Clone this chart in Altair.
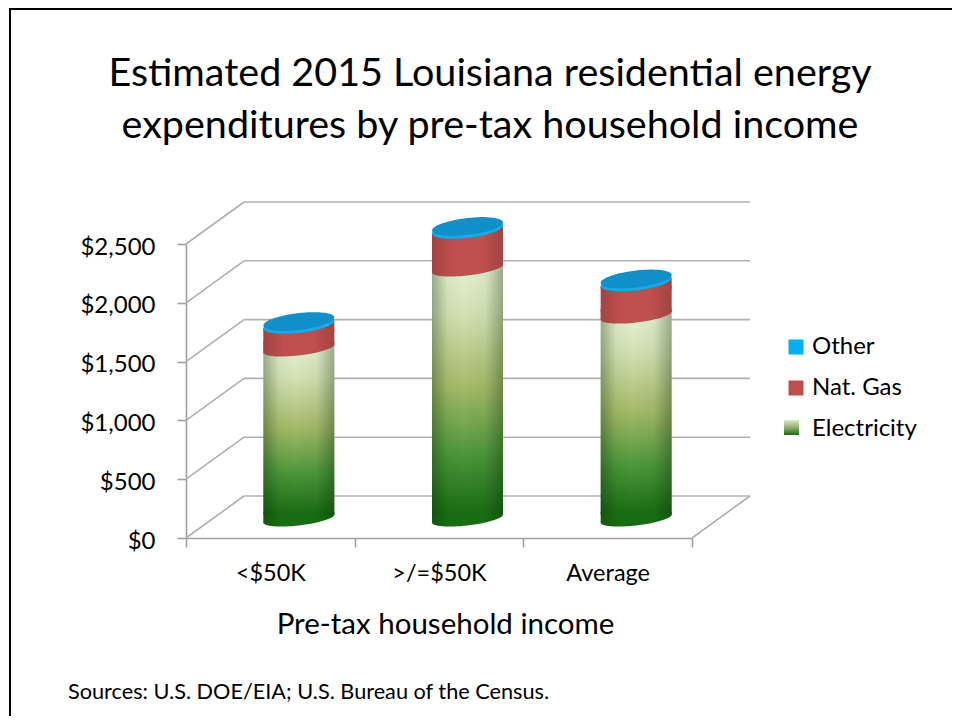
import altair as alt
import pandas as pd
import math

categories = ["<$50K", ">/=$50K", "Average"]
electricity = [1446, 2126, 1726]
nat_gas = [204, 332, 286]
other = [25, 25, 25]
series = ["Other", "Nat. Gas", "Electricity"]
ticks = [0, 500, 1000, 1500, 2000, 2500]

FONT = "Lato"
GRID = "#b0b0b0"
AXIS = "#a0a0a0"
AXIS_TITLE = "Pre-tax household income"
PW, PH = 506, 294
DX, DY = 58, 42            # depth of the 3-D box
BAR = 71                   # cylinder diameter
OX, OY = 28.5, -19.5       # cylinders stand mid-depth
TILT = 4.0
DATA_DEPTH = DY / PH * 2500
HALF = BAR / 2
SIZE = BAR * BAR
k = TILT / HALF
LAP = 0.08                 # triangles slip under the neighbouring rectangle, hiding the seam


def ellipse(b_px):
    b = b_px / HALF
    pts = []
    for i in range(64):
        a = 2 * math.pi * i / 64
        pts.append(f"{math.cos(a):.4f},{-k * math.cos(a) + b * math.sin(a):.4f}")
    return "M" + "L".join(pts) + "Z"


TOP_ELLIPSE = ellipse(8.5)
LOW_ELLIPSE = ellipse(7.0)
# fills the right corner under a slanted top
TRI_UP = f"M-1,{k:.4f}L1,{-k:.4f}L1,{k + LAP:.4f}L-1,{k + LAP:.4f}Z"
# fills the left corner above a slanted bottom
TRI_DOWN = f"M-1,{k:.4f}L1,{-k:.4f}L1,{-k - LAP:.4f}L-1,{-k - LAP:.4f}Z"


def grad_v(stops):
    return alt.Gradient(gradient="linear", x1=0, x2=0, y1=0, y2=1,
                        stops=[alt.GradientStop(color=c, offset=o) for o, c in stops])


def grad_h(stops):
    return alt.Gradient(gradient="linear", x1=0, x2=1, y1=0, y2=0,
                        stops=[alt.GradientStop(color=c, offset=o) for o, c in stops])


GREEN = [(0, "#e6f2d4"), (0.2, "#d3e2b4"), (0.5, "#a3b968"), (0.75, "#4f983c"), (1, "#186c12")]
RED = grad_h([(0, "#a34340"), (0.3, "#c0504d"), (0.7, "#c0504d"), (1, "#a34340")])
DARKGREEN = grad_h([(0, "#115a0c"), (0.25, "#186c12"), (0.75, "#186c12"), (1, "#115a0c")])
SHADE = grad_h([(0, "rgba(0,30,0,0.32)"), (0.22, "rgba(0,30,0,0.04)"), (0.45, "rgba(0,30,0,0)"),
                (0.75, "rgba(0,30,0,0.04)"), (1, "rgba(0,30,0,0.32)")])

bars = pd.DataFrame({"cat": categories, "elec": electricity, "gas": nat_gas, "oth": other})
bars["gas_top"] = bars.elec + bars.gas
bars["total"] = bars.gas_top + bars.oth
bars["zero"] = 0

seg = pd.DataFrame(
    [{"cat": c, "series": "Electricity", "lo": 0, "hi": e} for c, e in zip(categories, electricity)]
    + [{"cat": c, "series": "Nat. Gas", "lo": e, "hi": e + g} for c, e, g in zip(categories, electricity, nat_gas)]
    + [{"cat": c, "series": "Other", "lo": e + g, "hi": e + g + o} for c, e, g, o in zip(categories, electricity, nat_gas, other)]
)

grid = pd.DataFrame({"v": ticks})
grid["back"] = grid.v + DATA_DEPTH
floor = grid[grid.v == 0]

xs = alt.Scale(type="band", domain=categories, paddingInner=0, paddingOuter=0)
ys = alt.Scale(domain=[0, 2500], nice=False)
X = alt.X("cat:N", scale=xs, title=AXIS_TITLE)


def Y(field):
    return alt.Y(f"{field}:Q", scale=ys, title=None)


def rect(top, bottom, top_off, bottom_off, fill):
    return alt.Chart(bars).mark_bar(width=BAR, xOffset=OX, yOffset=OY + top_off, y2Offset=OY + bottom_off,
                                    fill=fill, strokeWidth=0).encode(x=X, y=Y(top), y2=alt.Y2(f"{bottom}:Q"))


def cap(field, shape, fill, off=0.0):
    return alt.Chart(bars).mark_point(shape=shape, size=SIZE, filled=True, opacity=1, fill=fill, strokeWidth=0,
                                      xOffset=OX, yOffset=OY + off).encode(x=X, y=Y(field))


back_h = alt.Chart(grid).mark_rule(color=GRID, strokeWidth=1.6).encode(
    x=alt.value(DX), x2=alt.value(PW + DX), y=Y("back"))
diag = alt.Chart(grid).mark_rule(color=GRID, strokeWidth=1.6).encode(
    x=alt.value(0), x2=alt.value(DX), y=Y("v"), y2=alt.Y2("back:Q"))
diag_r = alt.Chart(floor).mark_rule(color=GRID, strokeWidth=1.6).encode(
    x=alt.value(PW), x2=alt.value(PW + DX), y=Y("v"), y2=alt.Y2("back:Q"))

axes = alt.Chart(grid).mark_rule(opacity=0).encode(
    y=alt.Y("v:Q", scale=ys, title=None, axis=alt.Axis(
        values=ticks, format="$,d", grid=False, domainColor=AXIS, domainWidth=1.6, tickColor=AXIS, tickWidth=1.6,
        tickSize=9, labelFont=FONT, labelFontSize=24, labelColor="#000000", labelPadding=22, labelOffset=3)))

hidden = alt.Chart(bars).mark_bar(width=2, xOffset=OX, yOffset=OY, y2Offset=OY, opacity=0).encode(
    x=alt.X("cat:N", scale=xs, title=AXIS_TITLE, axis=alt.Axis(
        labelAngle=0, tickBand="extent", domainColor=AXIS, domainWidth=1.6, tickColor=AXIS, tickWidth=1.6, tickSize=9,
        labelFont=FONT, labelFontSize=23.5, labelColor="#000000", labelPadding=14, titleFont=FONT, titleFontSize=29.5,
        titleFontWeight="normal", titleColor="#000000", titleX=259, titleY=72)),
    y=Y("total"))

legend_bars = alt.Chart(seg).mark_bar(width=2, xOffset=OX, yOffset=OY, y2Offset=OY).encode(
    x=X, y=Y("hi"), y2=alt.Y2("lo:Q"),
    color=alt.Color("series:N", scale=alt.Scale(domain=series, range=["#00b0f0", "#c0504d", "transparent"]),
                    sort=series,
                    legend=alt.Legend(title=None, orient="none", legendX=598, legendY=91, symbolType="square",
                                      symbolSize=225, symbolOpacity=1, symbolStrokeWidth=0,
                                      labelFont=FONT, labelFontSize=24,
                                      labelColor="#000000", rowPadding=17, labelOffset=4, padding=0)))

swatch = alt.Chart(pd.DataFrame({"s": ["Electricity"]})).mark_rect(
    fill=grad_v([(0, "#dde9c8"), (0.5, "#8fb070"), (1, "#186c12")]), strokeWidth=0
).encode(x=alt.value(598), x2=alt.value(613), y=alt.value(176), y2=alt.value(191))

frame_top = alt.Chart(pd.DataFrame({"f": [1]})).mark_rule(color="#000000", strokeWidth=2).encode(
    x=alt.value(-177), x2=alt.value(766), y=alt.value(-235))
frame_left = alt.Chart(pd.DataFrame({"f": [1]})).mark_rule(color="#000000", strokeWidth=2).encode(
    x=alt.value(-176), y=alt.value(-236), y2=alt.value(472))

source = alt.Chart(pd.DataFrame({"t": ["Sources: U.S. DOE/EIA; U.S. Bureau of the Census."]})).mark_text(
    font=FONT, fontSize=21.7, align="left", baseline="alphabetic", color="#000000"
).encode(x=alt.value(-118), y=alt.value(455), text="t:N")

chart = alt.layer(
    frame_top, frame_left, back_h, diag, diag_r, axes, hidden, legend_bars,
    cap("zero", LOW_ELLIPSE, DARKGREEN),
    cap("zero", TRI_DOWN, DARKGREEN),
    rect("elec", "zero", -6, -TILT, grad_v(GREEN)),
    rect("elec", "zero", -6, -TILT, SHADE),
    cap("elec", LOW_ELLIPSE, RED),
    cap("elec", TRI_DOWN, RED),
    rect("gas_top", "elec", TILT, -TILT, RED),
    cap("gas_top", TRI_UP, RED),
    cap("gas_top", TOP_ELLIPSE, "#00b0f0"),
    cap("total", TOP_ELLIPSE, "#118fc9"),
    swatch, source,
).properties(
    width=PW, height=PH,
    title=alt.TitleParams(
        text=["Estimated 2015 Louisiana residential energy", "expenditures by pre-tax household income"],
        font=FONT, fontSize=39.5, fontWeight="normal", color="#000000", lineHeight=51.5,
        anchor="middle", frame="group", dx=51, offset=-170, baseline="alphabetic"),
    padding={"left": 178, "top": 236, "right": 260, "bottom": 178},
    autosize=alt.AutoSizeParams(type="none"),
).configure_view(stroke=None)

chart.save("out.html", embed_options={"renderer": "svg", "actions": False})
